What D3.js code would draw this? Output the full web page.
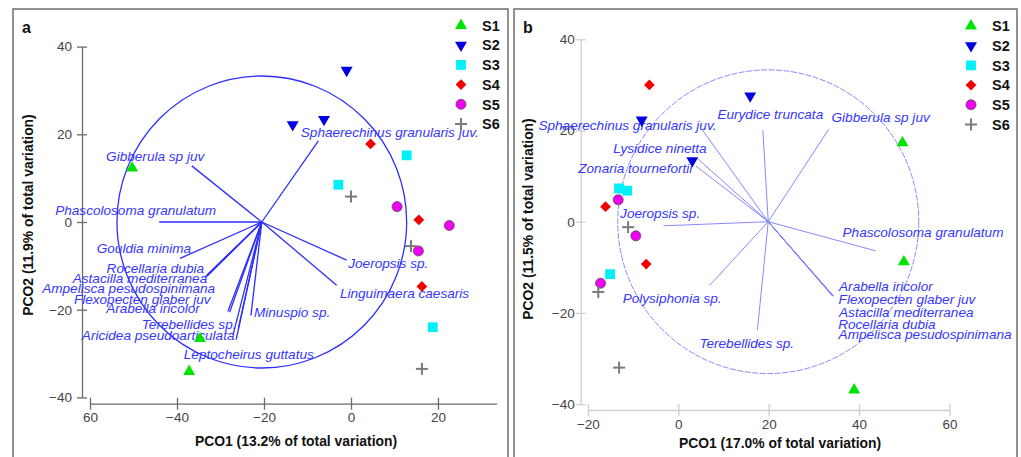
<!DOCTYPE html>
<html>
<head>
<meta charset="utf-8">
<script src="https://cdn.jsdelivr.net/npm/d3@7"></script>
<style>
  body { margin: 0; background: #fff; }
  svg { display: block; }
  text { font-family: "Liberation Sans", Arial, Helvetica, sans-serif; }
</style>
</head>
<body>
<svg id="chart" width="1021" height="457"></svg>
<script>
// ---------- data ----------
const stations = ["S1", "S2", "S3", "S4", "S5", "S6"];
const sampleStation = ["S1","S1","S1","S2","S2","S2","S3","S3","S3","S4","S4","S4","S5","S5","S5","S6","S6","S6"];

// panel a: sample scores
const aPCO1 = [-50.3, -34.7, -37.2,  -1.0, -13.4, -6.2,  12.8, -2.9, 18.8,   4.5, 15.6, 16.3,  10.6, 22.6, 15.5,   0.0, 13.8, 16.3];
const aPCO2 = [ 12.3, -26.6, -34.1,  34.6,  22.2, 23.4,  15.2,  8.5, -24.0, 17.8,  0.5, -14.7,  3.5, -0.8, -6.6,   5.8, -5.5, -33.5];

// panel b: sample scores
const bPCO1 = [49.6, 49.9, 38.9,  -8.1, 3.1, 15.9,  -13.1, -11.3, -15.1,  -6.4, -16.1, -7.1,  -13.3, -9.4, -17.2,  -11.1, -17.7, -13.1];
const bPCO2 = [17.3, -8.8, -36.9, 22.3, 13.4, 27.6,   7.3,   6.8, -11.5,  30.0,   3.3, -9.3,    4.8, -3.1, -13.5,   -1.2, -15.4, -32.0];

// panel a: species vectors (end points on PCO1/PCO2 axes)
const aSpecies = ["Sphaerechinus granularis juv.", "Gibberula sp juv", "Phascolosoma granulatum", "Gouldia minima",
  "Rocellaria dubia", "Astacilla mediterranea", "Ampelisca pesudospinimana", "Flexopecten glaber juv",
  "Arabella iricolor", "Terebellides sp.", "Aricidea pseudoarticulata", "Leptocheirus guttatus",
  "Minuspio sp.", "Joeropsis sp.", "Linguimaera caesaris"];
const aVecX = [-7.5, -36.6, -44.1, -39.3, -32.9, -33.1, -33.6, -28.3, -27.9, -27.1, -26.4, -25.9, -23.0, -1.0, -3.3];
const aVecY = [18.5,  12.8,   0.0,  -8.3, -11.9, -12.4, -12.6, -20.4, -20.6, -25.7, -26.8, -24.3, -21.3, -8.7, -14.4];
const aCircleCentre = [-20.5, 0];
const aCircleRadius = 33.3;

// panel b: species vectors
const bSpecies = ["Eurydice truncata", "Gibberula sp juv", "Sphaerechinus granularis juv.", "Lysidice ninetta",
  "Zonaria tournefortii", "Joeropsis sp.", "Phascolosoma granulatum", "Arabella iricolor",
  "Flexopecten glaber juv", "Astacilla mediterranea", "Rocellaria dubia", "Ampelisca pesudospinimana",
  "Polysiphonia sp.", "Terebellides sp."];
const bVecX = [18.7, 33.3, 5.2, 4.4, 3.9, -3.3, 43.7, 34.3, 34.2, 34.3, 34.1, 34.2, 7.0, 17.5];
const bVecY = [20.1, 20.3, 20.3, 13.7, 12.2, -0.9, -6.4, -16.3, -16.2, -16.4, -16.3, -16.2, -13.9, -23.8];
const bCircleCentre = [19.9, 0];
const bCircleRadius = 33.3;

// axes
const aXTicks = [-60, -40, -20, 0, 20];
const aXTickLabels = ["60", "\u221240", "\u221220", "0", "20"];
const bXTicks = [-20, 0, 20, 40, 60];
const bXTickLabels = ["\u221220", "0", "20", "40", "60"];
const yTicks = [-40, -20, 0, 20, 40];
const yTickLabels = ["\u221240", "\u221220", "0", "20", "40"];

// ---------- styling ----------
const stationColour = { S1: "#00e400", S2: "#0000e0", S3: "#00f0f8", S4: "#f20000", S5: "#f000f0", S6: "#7a7a7a" };

// label offsets (px) from each vector end point
const aLabelOffset = {
  "Sphaerechinus granularis juv.": [-17.6, -8.3], "Gibberula sp juv": [-85.7, -9.3],
  "Phascolosoma granulatum": [-104, -11.3], "Gouldia minima": [-83.3, -10.6],
  "Rocellaria dubia": [-101.3, -6.3], "Astacilla mediterranea": [-134.3, 2.3],
  "Ampelisca pesudospinimana": [-162.7, 11.3], "Flexopecten glaber juv": [-154, -12],
  "Arabella iricolor": [-123.5, -3.7], "Terebellides sp.": [-91.3, -10],
  "Aricidea pseudoarticulata": [-154.3, -4], "Leptocheirus guttatus": [-54.5, 25.3],
  "Minuspio sp.": [3, -3.3], "Joeropsis sp.": [1.6, 3.3], "Linguimaera caesaris": [3.3, 8.3]
};
const bLabelOffset = {
  "Eurydice truncata": [-45.4, -16], "Gibberula sp juv": [2.7, -12],
  "Sphaerechinus granularis juv.": [-163.4, -3.6], "Lysidice ninetta": [-85, -11],
  "Zonaria tournefortii": [-117.7, 2.3], "Joeropsis sp.": [-43.3, -12.7],
  "Phascolosoma granulatum": [-33.3, -18.4], "Arabella iricolor": [5.7, -9.3],
  "Flexopecten glaber juv": [5.7, 3.3], "Astacilla mediterranea": [5.7, 15.7],
  "Rocellaria dubia": [5.7, 28], "Ampelisca pesudospinimana": [5.7, 39],
  "Polysiphonia sp.": [-87.3, 13.3], "Terebellides sp.": [-58, 13.3]
};

const svg = d3.select("#chart");

function markerPath(st) {
  switch (st) {
    case "S1": return d3.symbol(d3.symbolTriangle, 62)();
    case "S2": return d3.symbol(d3.symbolTriangle, 62)();
    case "S3": return d3.symbol(d3.symbolSquare, 96)();
    case "S4": return d3.symbol(d3.symbolSquare, 58)();
    case "S5": return d3.symbol(d3.symbolCircle, 80)();
    default: return null;
  }
}

function drawMarker(g, st, px, py) {
  if (st === "S6") {
    const p = g.append("g").attr("transform", `translate(${px},${py})`)
      .attr("stroke", stationColour.S6).attr("stroke-width", 2);
    p.append("line").attr("x1", -6).attr("x2", 6).attr("y1", 0).attr("y2", 0);
    p.append("line").attr("x1", 0).attr("x2", 0).attr("y1", -6).attr("y2", 6);
    return;
  }
  let rot = 0;
  if (st === "S2") rot = 180;
  if (st === "S4") rot = 45;
  const m = g.append("path").attr("d", markerPath(st))
    .attr("transform", `translate(${px},${py}) rotate(${rot})`)
    .attr("fill", stationColour[st]);
  if (st === "S5") m.attr("stroke", "#555").attr("stroke-width", 0.8);
}

function drawPanel(cfg) {
  const g = svg.append("g");

  g.append("rect")
    .attr("x", cfg.box[0]).attr("y", cfg.box[1])
    .attr("width", cfg.box[2]).attr("height", cfg.box[3])
    .attr("fill", "none").attr("stroke", "#6e6e6e").attr("stroke-width", 1.5);

  g.append("text").attr("x", cfg.tag[0]).attr("y", cfg.tag[1])
    .attr("font-size", 16).attr("font-weight", "bold").attr("fill", "#111").text(cfg.tagText);

  const x = d3.scaleLinear().domain(cfg.xDomain).range(cfg.xRange);
  const y = d3.scaleLinear().domain([-40, 40]).range(cfg.yRange);

  // x axis
  const gx = g.append("g").attr("transform", `translate(0,${cfg.xAxisY})`)
    .call(d3.axisBottom(x).tickValues(cfg.xTicks)
      .tickFormat((d, i) => cfg.xTickLabels[i]).tickSizeOuter(0));
  gx.select(".domain").attr("stroke", cfg.axisColour).attr("stroke-width", 1.3);
  gx.selectAll(".tick line").attr("y1", -6).attr("y2", 6)
    .attr("stroke", cfg.axisColour).attr("stroke-width", 1.3);
  gx.selectAll(".tick text").attr("y", 9).attr("dy", "0.71em")
    .attr("font-size", 13.5).attr("fill", "#444").attr("font-family", null);

  // y axis
  const gy = g.append("g").attr("transform", `translate(${cfg.yAxisX},0)`)
    .call(d3.axisLeft(y).tickValues(yTicks)
      .tickFormat((d, i) => yTickLabels[i]).tickSizeOuter(0));
  gy.select(".domain").attr("stroke", cfg.axisColour).attr("stroke-width", 1.3);
  gy.selectAll(".tick line").attr("x1", -5).attr("x2", 5)
    .attr("stroke", cfg.axisColour).attr("stroke-width", 1.3);
  gy.selectAll(".tick text").attr("x", -cfg.yLabelGap)
    .attr("font-size", 13.5).attr("fill", "#444").attr("font-family", null);
  gx.attr("font-family", null); gy.attr("font-family", null);

  // axis titles
  g.append("text").attr("x", cfg.xTitle[0]).attr("y", cfg.xTitle[1])
    .attr("text-anchor", "middle").attr("font-size", 13.9).attr("font-weight", "bold")
    .attr("fill", "#111").text(cfg.xTitleText);
  g.append("text")
    .attr("transform", `translate(${cfg.yTitle[0]},${cfg.yTitle[1]}) rotate(-90)`)
    .attr("text-anchor", "middle").attr("dy", "0.35em").attr("font-size", 13.9)
    .attr("font-weight", "bold").attr("fill", "#111").text(cfg.yTitleText);

  // correlation circle
  const [cx, cy] = cfg.centre;
  g.append("ellipse")
    .attr("cx", x(cx)).attr("cy", y(cy))
    .attr("rx", x(cx + cfg.radius) - x(cx)).attr("ry", y(cy) - y(cy + cfg.radius))
    .attr("fill", "none").attr("stroke", cfg.vecColour)
    .attr("stroke-width", cfg.circleWidth).attr("stroke-dasharray", cfg.circleDash);

  // species vectors
  cfg.species.forEach((name, i) => {
    g.append("line")
      .attr("x1", x(cx)).attr("y1", y(cy))
      .attr("x2", x(cfg.vecX[i])).attr("y2", y(cfg.vecY[i]))
      .attr("stroke", cfg.vecColour).attr("stroke-width", cfg.vecWidth);
  });
  cfg.species.forEach((name, i) => {
    const off = cfg.labelOffset[name];
    g.append("text")
      .attr("x", x(cfg.vecX[i]) + off[0]).attr("y", y(cfg.vecY[i]) + off[1])
      .attr("dy", "0.35em").attr("font-size", 13.6).attr("font-style", "italic")
      .attr("fill", "#3636ff").text(name);
  });

  // samples
  cfg.pco1.forEach((v, i) => drawMarker(g, sampleStation[i], x(v), y(cfg.pco2[i])));

  // legend
  stations.forEach((st, i) => {
    const ly = cfg.legend[1] + i * 19.7;
    drawMarker(g, st, cfg.legend[0], ly);
    g.append("text").attr("x", cfg.legend[0] + 21).attr("y", ly).attr("dy", "0.36em")
      .attr("font-size", 14.5).attr("font-weight", "bold").attr("fill", "#111").text(st);
  });
}

drawPanel({
  box: [13, 9, 495, 470], tag: [22, 33], tagText: "a",
  xDomain: [-60, 33.5], xRange: [90, 496.7], yRange: [397.4, 46.6],
  xAxisY: 403.7, yAxisX: 82, yLabelGap: 10, axisColour: "#6b6b6b",
  xTicks: aXTicks, xTickLabels: aXTickLabels,
  xTitle: [296, 446], xTitleText: "PCO1 (13.2% of total variation)",
  yTitle: [28.5, 215], yTitleText: "PCO2 (11.9% of total variation)",
  centre: aCircleCentre, radius: aCircleRadius,
  vecColour: "#2e2eff", vecWidth: 1.3, circleWidth: 1.3, circleDash: null,
  species: aSpecies, vecX: aVecX, vecY: aVecY, labelOffset: aLabelOffset,
  pco1: aPCO1, pco2: aPCO2, legend: [461, 25.5]
});

drawPanel({
  box: [514, 9, 503, 470], tag: [523, 33], tagText: "b",
  xDomain: [-20, 60], xRange: [587.9, 949.5], yRange: [404.1, 39.3],
  xAxisY: 410, yAxisX: 580.7, yLabelGap: 6, axisColour: "#cfcfcf",
  xTicks: bXTicks, xTickLabels: bXTickLabels,
  xTitle: [780, 448], xTitleText: "PCO1 (17.0% of total variation)",
  yTitle: [528.5, 219], yTitleText: "PCO2 (11.5% of total variation)",
  centre: bCircleCentre, radius: bCircleRadius,
  vecColour: "#7a7aff", vecWidth: 0.9, circleWidth: 0.9, circleDash: "6,1.5",
  species: bSpecies, vecX: bVecX, vecY: bVecY, labelOffset: bLabelOffset,
  pco1: bPCO1, pco2: bPCO2, legend: [971, 26]
});
</script>
</body>
</html>
